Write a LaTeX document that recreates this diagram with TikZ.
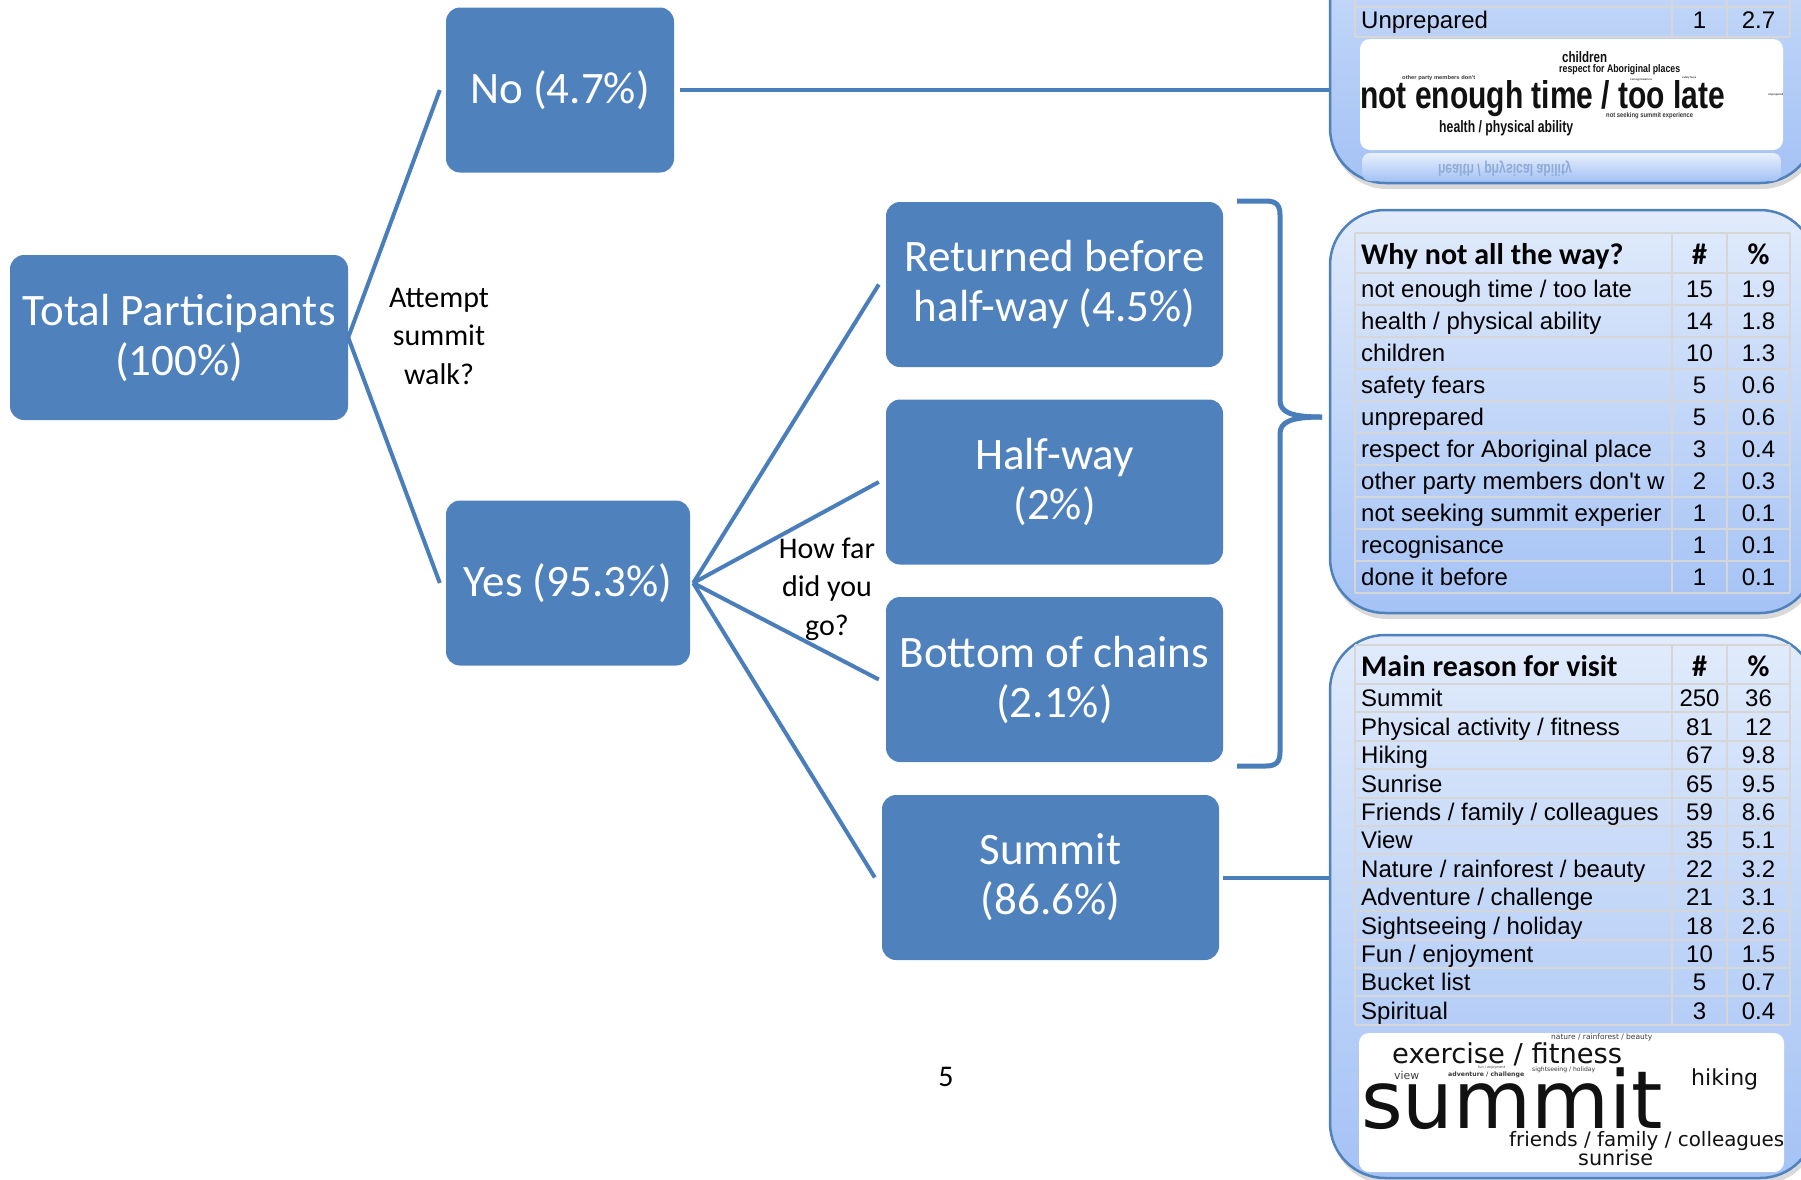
\documentclass[tikz,border=0pt]{standalone}
\usepackage{fontspec}
\usepackage{graphicx}
\setmainfont{Carlito}
\newfontfamily\arialf{Liberation Sans}
\newfontfamily\vera{DejaVu Sans}
\usetikzlibrary{shadows}
\definecolor{boxblue}{HTML}{4F81BD}
\definecolor{lineblue}{HTML}{4A7EBB}
\definecolor{paneltop}{HTML}{E1EBFB}
\definecolor{panelbot}{HTML}{A4C2F5}
\definecolor{panelline}{HTML}{4F81BD}
\definecolor{gridgray}{HTML}{D6D6D6}
\definecolor{cloudink}{HTML}{111111}
\definecolor{cloudgray}{HTML}{3A3A3A}
\tikzset{
 box/.style={fill=boxblue, rounded corners=14pt, text=white, align=center, inner sep=0pt, minimum height=165pt, font=\fontsize{45}{50}\selectfont},
 conn/.style={draw=lineblue, line width=4pt},
 brace/.style={draw=lineblue, line width=5pt, line join=round},
 qlabel/.style={align=center, inner sep=0pt, font=\fontsize{30}{38.5}\selectfont},
 panel/.style={draw=panelline, line width=2.5pt, rounded corners=55pt, top color=paneltop, bottom color=panelbot, minimum width=485pt, inner sep=0pt, drop shadow={opacity=0.3, shadow xshift=2pt, shadow yshift=-6pt}},
 grid/.style={draw=gridgray, line width=2pt},
 cell/.style={inner sep=0pt, font=\arialf\fontsize{24}{28}\selectfont},
 head/.style={inner sep=0pt, font=\bfseries\fontsize{30}{34}\selectfont},
 wbox/.style={fill=white, rounded corners=10pt, inner sep=0pt},
 cloud/.style={inner sep=0pt, text=cloudink, anchor=base west},
 cloudsm/.style={inner sep=0pt, text=cloudgray, anchor=base west},
}
\newcommand\trow[5]{%
 \node[cell, anchor=base west] (#1t) at (1361,#2) {#3};
 \node[cell, anchor=base] (#1n) at (1699.5,#2) {#4};
 \node[cell, anchor=base] (#1p) at (1758.5,#2) {#5};}
\begin{document}
\begin{tikzpicture}[x=1pt, y=-1pt]
\useasboundingbox (0,0) rectangle (1801,1179);
\clip (0,0) rectangle (1801,1179);

% ---------- panels ----------
\node[panel, minimum height=403pt] (p1) at (1572.5,-18.5) {};
\node[panel, minimum height=403pt] (p2) at (1572.5,411.5) {};
\node[panel, minimum height=543pt] (p3) at (1572.5,906.5) {};

% ---------- panel 1 (cut off at top) ----------
\foreach \yy in {7,37} \draw[grid] (1355,\yy) -- (1790,\yy);
\foreach \xx in {1355,1672,1727,1790} \draw[grid] (\xx,-2) -- (\xx,37);
\trow{u}{28.5}{Unprepared}{1}{2.7}
\node[wbox, minimum width=423pt, minimum height=111pt] (w1) at (1571.5,94.5) {};
\shade[top color=white!75!panelbot, bottom color=panelbot, rounded corners=8pt] (1362,153) rectangle (1781,181);
\node[inner sep=0pt, text=black!12!panelbot] (refl) at (1505,169) {\scalebox{1}[-1]{\resizebox{134pt}{12pt}{\arialf\bfseries health / physical ability}}};
\node[cloud] (c1a) at (1360,108.5) {\resizebox{365pt}{28pt}{\arialf\bfseries not enough time / too late}};
\node[cloud] (c1b) at (1562,62.5) {\resizebox{45pt}{11pt}{\arialf\bfseries children}};
\node[cloud] (c1c) at (1559,72.5) {\resizebox{121pt}{8pt}{\arialf\bfseries respect for Aboriginal places}};
\node[cloudsm] (c1d) at (1402,79.5) {\resizebox{73pt}{4pt}{\arialf\bfseries other party members don\textquotesingle t}};
\node[cloudsm] (c1e) at (1606,117) {\resizebox{87pt}{5pt}{\arialf\bfseries not seeking summit experience}};
\node[cloud] (c1f) at (1439,132.5) {\resizebox{134pt}{12pt}{\arialf\bfseries health / physical ability}};
\node[cloudsm] (c1g) at (1630,80) {\resizebox{22pt}{2pt}{\arialf\bfseries recognisance}};
\node[cloudsm] (c1h) at (1682,78.5) {\resizebox{14pt}{2pt}{\arialf\bfseries safety fears}};
\node[cloudsm] (c1i) at (1768,95) {\resizebox{15pt}{2pt}{\arialf\bfseries unprepared}};

% ---------- panel 2 table ----------
\foreach \yy in {233,273,305,337,369,401,433,465,497,529,561,593} \draw[grid] (1355,\yy) -- (1790,\yy);
\foreach \xx in {1355,1672,1727,1790} \draw[grid] (\xx,233) -- (\xx,593);
\node[head, anchor=base west] (h2) at (1361,264) {Why not all the way?};
\node[head, anchor=base] (h2n) at (1699.5,264) {\#};
\node[head, anchor=base] (h2p) at (1758.5,264) {\%};
\trow{a1}{297}{not enough time / too late}{15}{1.9}
\trow{a2}{329}{health / physical ability}{14}{1.8}
\trow{a3}{361}{children}{10}{1.3}
\trow{a4}{393}{safety fears}{5}{0.6}
\trow{a5}{425}{unprepared}{5}{0.6}
\trow{a6}{457}{respect for Aboriginal place}{3}{0.4}
\trow{a7}{489}{other party members don\textquotesingle t w}{2}{0.3}
\trow{a8}{521}{not seeking summit experier}{1}{0.1}
\trow{a9}{553}{recognisance}{1}{0.1}
\trow{a10}{585}{done it before}{1}{0.1}

% ---------- panel 3 table ----------
\draw[grid] (1355,645) -- (1790,645);
\foreach \k in {0,...,12} \draw[grid] (1355,{684+28.4*\k}) -- (1790,{684+28.4*\k});
\foreach \xx in {1355,1672,1727,1790} \draw[grid] (\xx,645) -- (\xx,1025);
\node[head, anchor=base west] (h3) at (1361,676) {Main reason for visit};
\node[head, anchor=base] (h3n) at (1699.5,676) {\#};
\node[head, anchor=base] (h3p) at (1758.5,676) {\%};
\trow{b1}{706.9}{Summit}{250}{36}
\trow{b2}{735.3}{Physical activity / fitness}{81}{12}
\trow{b3}{763.7}{Hiking}{67}{9.8}
\trow{b4}{792.1}{Sunrise}{65}{9.5}
\trow{b5}{820.5}{Friends / family / colleagues}{59}{8.6}
\trow{b6}{848.9}{View}{35}{5.1}
\trow{b7}{877.3}{Nature / rainforest / beauty}{22}{3.2}
\trow{b8}{905.7}{Adventure / challenge}{21}{3.1}
\trow{b9}{934.1}{Sightseeing / holiday}{18}{2.6}
\trow{b10}{962.5}{Fun / enjoyment}{10}{1.5}
\trow{b11}{990.9}{Bucket list}{5}{0.7}
\trow{b12}{1019.3}{Spiritual}{3}{0.4}

% word cloud 2
\node[wbox, minimum width=425pt, minimum height=139pt] (w2) at (1571.5,1102.5) {};
\node[cloud] (c2a) at (1361,1128) {\resizebox{302pt}{!}{\vera summit}};
\node[cloud] (c2b) at (1392,1063) {\resizebox{230pt}{!}{\vera exercise / fitness}};
\node[cloud] (c2c) at (1691,1085) {\resizebox{67pt}{!}{\vera hiking}};
\node[cloud] (c2d) at (1509,1146) {\resizebox{275pt}{!}{\vera friends / family / colleagues}};
\node[cloud] (c2e) at (1578,1165) {\resizebox{75pt}{!}{\vera sunrise}};
\node[cloudsm] (c2f) at (1394,1079) {\resizebox{25pt}{!}{\vera view}};
\node[cloudsm] (c2g) at (1448,1076) {\resizebox{76pt}{!}{\vera\bfseries adventure / challenge}};
\node[cloudsm] (c2h) at (1532,1071) {\resizebox{63pt}{!}{\vera sightseeing / holiday}};
\node[cloudsm] (c2i) at (1551,1039.5) {\resizebox{101pt}{!}{\vera nature / rainforest / beauty}};
\node[cloudsm] (c2j) at (1478,1068) {\resizebox{27pt}{!}{\vera fun / enjoyment}};

% ---------- tree boxes ----------
\node[box, minimum width=338pt] (total) at (179,337.5) {Total Participants\\(100\%)};
\node[box, minimum width=228pt] (no) at (560,90) {No (4.7\%)};
\node[box, minimum width=244pt] (yes) at (568,583) {Yes (95.3\%)};
\node[box, minimum width=337pt] (ret) at (1054.5,284.5) {Returned before\\half-way (4.5\%)};
\node[box, minimum width=337pt] (half) at (1054.5,482) {Half-way\\(2\%)};
\node[box, minimum width=337pt] (bot) at (1054.5,679.5) {Bottom of chains\\(2.1\%)};
\node[box, minimum width=337pt] (sum) at (1050.5,877.5) {Summit\\(86.6\%)};

\node[qlabel] (q1) at (439,336) {Attempt\\summit\\walk?};
\node[qlabel] (q2) at (827,589) {How far\\did you\\go?};

% ---------- connectors ----------
\draw[conn] (total.east) -- ([xshift=-6pt]no.west);
\draw[conn] (total.east) -- ([xshift=-6pt]yes.west);
\draw[conn] ([xshift=3pt]yes.east) -- ([xshift=-7pt]ret.west);
\draw[conn] ([xshift=3pt]yes.east) -- ([xshift=-7pt]half.west);
\draw[conn] ([xshift=3pt]yes.east) -- ([xshift=-7pt]bot.west);
\draw[conn] ([xshift=3pt]yes.east) -- ([xshift=-7pt]sum.west);
\draw[conn] ([xshift=6pt]no.east) -- (no.east -| p1.west);
\draw[conn] ([xshift=4pt]sum.east) -- (sum.east -| p3.west);

% brace to panel 2
\coordinate (brtip) at (1322,417);
\draw[brace] (1237,201) -- (1266,201) .. controls (1276,201) and (1280,205) .. (1280,215) -- (1280,400) .. controls (1280,412) and (1290,417) .. (brtip);
\draw[brace] (brtip) .. controls (1290,417) and (1280,422) .. (1280,434) -- (1280,752) .. controls (1280,762) and (1276,766) .. (1266,766) -- (1237,766);

\node[inner sep=0pt, font=\fontsize{30}{34}\selectfont] (pg) at (946,1077) {5};
\end{tikzpicture}
\end{document}
